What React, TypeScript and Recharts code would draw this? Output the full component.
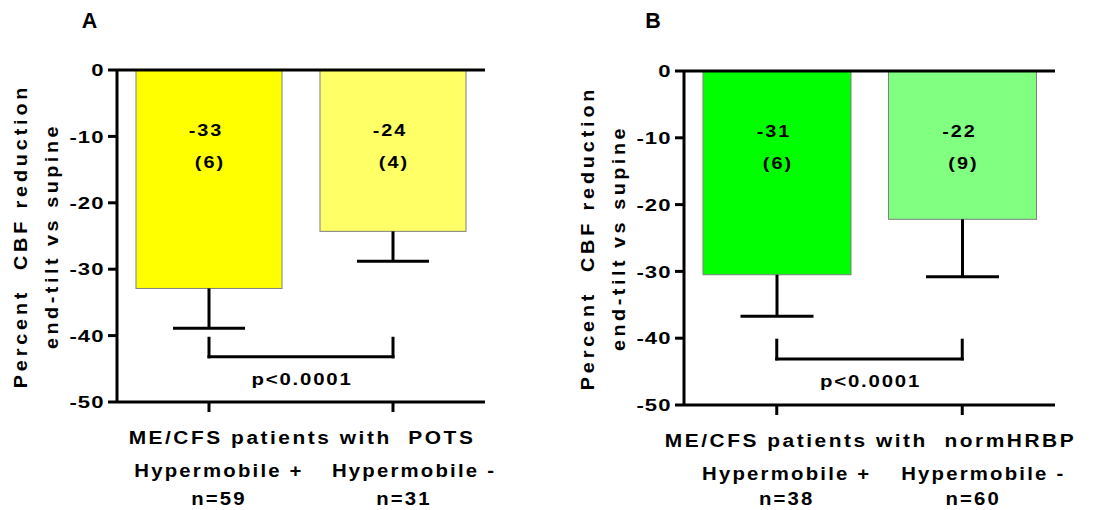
import React from 'react';
import {BarChart, Bar, XAxis, YAxis, ReferenceLine, Label} from 'recharts';

const groups = ['Hypermobile +', 'Hypermobile -'];
const yTicks = [0, -10, -20, -30, -40, -50];
const pText = 'p<0.0001';
const yTitle = ['Percent  CBF reduction', 'end-tilt vs supine'];

// panel A - POTS
const titlePots = 'ME/CFS patients with  POTS';
const nPots = ['n=59', 'n=31'];
const meanPots = [-32.9, -24.3];
const errPots = [6.0, 4.5];
const meanTextPots = ['-33', '-24'];
const errTextPots = ['(6)', '(4)'];
const bracketPots = [-40.4, -43.2];

// panel B - normHRBP
const titleNorm = 'ME/CFS patients with  normHRBP';
const nNorm = ['n=38', 'n=60'];
const meanNorm = [-30.5, -22.2];
const errNorm = [6.2, 8.6];
const meanTextNorm = ['-31', '-22'];
const errTextNorm = ['(6)', '(9)'];
const bracketNorm = [-40.3, -43.1];

const H = 510;
const FONT = "'Liberation Sans', Arial, sans-serif";
const txt: React.CSSProperties = {fontFamily: FONT, fontWeight: 700, fill: '#000', whiteSpace: 'pre'};

// text that is a bit wider than the font (the original looks stretched)
const T = (props: {x: number; y: number; sx?: number; rot?: number; size: number; ls?: number;
    anchor?: 'start' | 'middle' | 'end'; dy?: string; children: React.ReactNode}) => {
    const {x, y, sx = 1, rot = 0, size, ls = 0, anchor = 'middle', dy, children} = props;
    return (
        <text transform={`translate(${x} ${y}) rotate(${rot}) scale(${sx} 1)`} x={0} y={0} dy={dy}
              textAnchor={anchor} fontSize={size} letterSpacing={ls} style={txt}>
            {children}
        </text>
    );
};

interface PanelProps {
    letter: string;
    title: string;
    n: string[];
    mean: number[];
    err: number[];
    meanText: string[];
    errText: string[];
    bracket: number[];
    colors: string[];
    left: number;
    width: number;
    plotLeft: number;
    plotRight: number;
    plotTop: number;
    plotBottom: number;
    barSize: number;
    capW: number;
    letterX: number;
}

const hyperDx = [10, 21];
const nDx = [10, 11];

const Panel: React.FC<PanelProps> = (p) => {
    const data = groups.map((g, i) => ({group: g, mean: p.mean[i], err: -p.err[i]}));
    const yW = 60;

    const BarShape = (s: any) => {
        const top = Math.min(s.y, s.y + s.height);
        const h = Math.abs(s.height);
        const cx = s.x + s.width / 2;
        return (
            <g>
                <rect x={s.x} y={top} width={s.width} height={h} fill={p.colors[s.index]} stroke="#808080" strokeWidth={1}/>
                <T x={cx - 3} y={top + 66} sx={1.2} size={16.5} ls={1.7}>{p.meanText[s.index]}</T>
                <T x={cx + 1} y={top + 98} sx={1.2} size={16.5} ls={1.7}>{p.errText[s.index]}</T>
            </g>
        );
    };

    const ErrShape = (s: any) => {
        const top = Math.min(s.y, s.y + s.height);
        const bot = Math.max(s.y, s.y + s.height);
        const cx = s.x + s.width / 2;
        return (
            <g stroke="#000" strokeWidth={3}>
                <line x1={cx} x2={cx} y1={top} y2={bot}/>
                <line x1={cx - p.capW / 2} x2={cx + p.capW / 2} y1={bot} y2={bot}/>
            </g>
        );
    };

    const GroupTick = (t: any) => {
        const i = t.index;
        return (
            <g>
                <T x={t.x + hyperDx[i]} y={t.y + 63} sx={1.1} size={18.5} ls={2}>{t.payload.value}</T>
                <T x={t.x + nDx[i]} y={Math.min(t.y + 91.5, H - 5)} sx={1.1} size={18.5} ls={1.9}>{p.n[i]}</T>
            </g>
        );
    };

    const ValueTick = (t: any) => (
        <T x={t.x + 1} y={t.y} dy="0.36em" anchor="end" sx={1.3} size={17} ls={0.8}>{t.payload.value}</T>
    );

    const seg = {stroke: '#000', strokeWidth: 3, strokeLinecap: 'square' as const};

    return (
        <div style={{position: 'absolute', left: p.left, top: 0, width: p.width, height: H}}>
            <BarChart
                width={p.width}
                height={H}
                data={data}
                margin={{top: p.plotTop, right: p.width - p.plotRight, left: p.plotLeft - yW, bottom: 0}}
            >
                <XAxis
                    dataKey="group"
                    height={H - p.plotBottom}
                    axisLine={{stroke: '#000', strokeWidth: 3}}
                    tickLine={{stroke: '#000', strokeWidth: 3}}
                    tickSize={10}
                    tick={GroupTick}
                    interval={0}
                >
                    <Label
                        content={(l: any) => (
                            <T x={l.viewBox.x + l.viewBox.width / 2 + 1} y={l.viewBox.y + 41.5} sx={1.1} size={19} ls={2.3}>
                                {p.title}
                            </T>
                        )}
                    />
                </XAxis>
                <YAxis
                    width={yW}
                    domain={[-50, 0]}
                    ticks={yTicks}
                    interval={0}
                    axisLine={{stroke: '#000', strokeWidth: 3}}
                    tickLine={{stroke: '#000', strokeWidth: 3}}
                    tickSize={9}
                    tickMargin={4.5}
                    tick={ValueTick}
                >
                    <Label
                        content={(l: any) => {
                            const cy = l.viewBox.y + l.viewBox.height / 2;
                            return (
                                <g>
                                    <T x={p.plotLeft - 90} y={cy} rot={-90} sx={1.1} size={18} ls={3.5}>{yTitle[0]}</T>
                                    <T x={p.plotLeft - 59} y={cy} rot={-90} sx={1.1} size={18} ls={3.2}>{yTitle[1]}</T>
                                </g>
                            );
                        }}
                    />
                </YAxis>
                <Bar dataKey="mean" stackId="s" barSize={p.barSize} shape={BarShape} isAnimationActive={false}/>
                <Bar dataKey="err" stackId="s" barSize={p.barSize} shape={ErrShape} isAnimationActive={false}/>
                <ReferenceLine y={0} stroke="#000" strokeWidth={3}/>
                <ReferenceLine
                    segment={[{x: groups[0], y: p.bracket[0]}, {x: groups[0], y: p.bracket[1]}]}
                    {...seg}
                />
                <ReferenceLine
                    segment={[{x: groups[1], y: p.bracket[0]}, {x: groups[1], y: p.bracket[1]}]}
                    {...seg}
                />
                <ReferenceLine
                    segment={[{x: groups[0], y: p.bracket[1]}, {x: groups[1], y: p.bracket[1]}]}
                    {...seg}
                    label={(l: any) => (
                        <T x={l.viewBox.x + l.viewBox.width / 2 + 1} y={l.viewBox.y + 28} sx={1.2} size={17} ls={1.5}>
                            {pText}
                        </T>
                    )}
                />
            </BarChart>
            <svg style={{position: 'absolute', left: 0, top: 0}} width={p.width} height={40}>
                <T x={p.letterX} y={27.5} size={21.5}>{p.letter}</T>
            </svg>
        </div>
    );
};

export default function App() {
    return (
        <div style={{position: 'absolute', left: 0, top: 0, width: 1116, height: H, background: '#fff'}}>
            <Panel
                letter="A"
                title={titlePots}
                n={nPots}
                mean={meanPots}
                err={errPots}
                meanText={meanTextPots}
                errText={errTextPots}
                bracket={bracketPots}
                colors={['#FFFF00', '#FFFF66']}
                left={0}
                width={560}
                plotLeft={117}
                plotRight={485}
                plotTop={70}
                plotBottom={402}
                barSize={146}
                capW={72}
                letterX={89.5}
            />
            <Panel
                letter="B"
                title={titleNorm}
                n={nNorm}
                mean={meanNorm}
                err={errNorm}
                meanText={meanTextNorm}
                errText={errTextNorm}
                bracket={bracketNorm}
                colors={['#00FF00', '#80FF80']}
                left={560}
                width={556}
                plotLeft={124}
                plotRight={495}
                plotTop={71}
                plotBottom={405}
                barSize={148}
                capW={73}
                letterX={93}
            />
        </div>
    );
}
